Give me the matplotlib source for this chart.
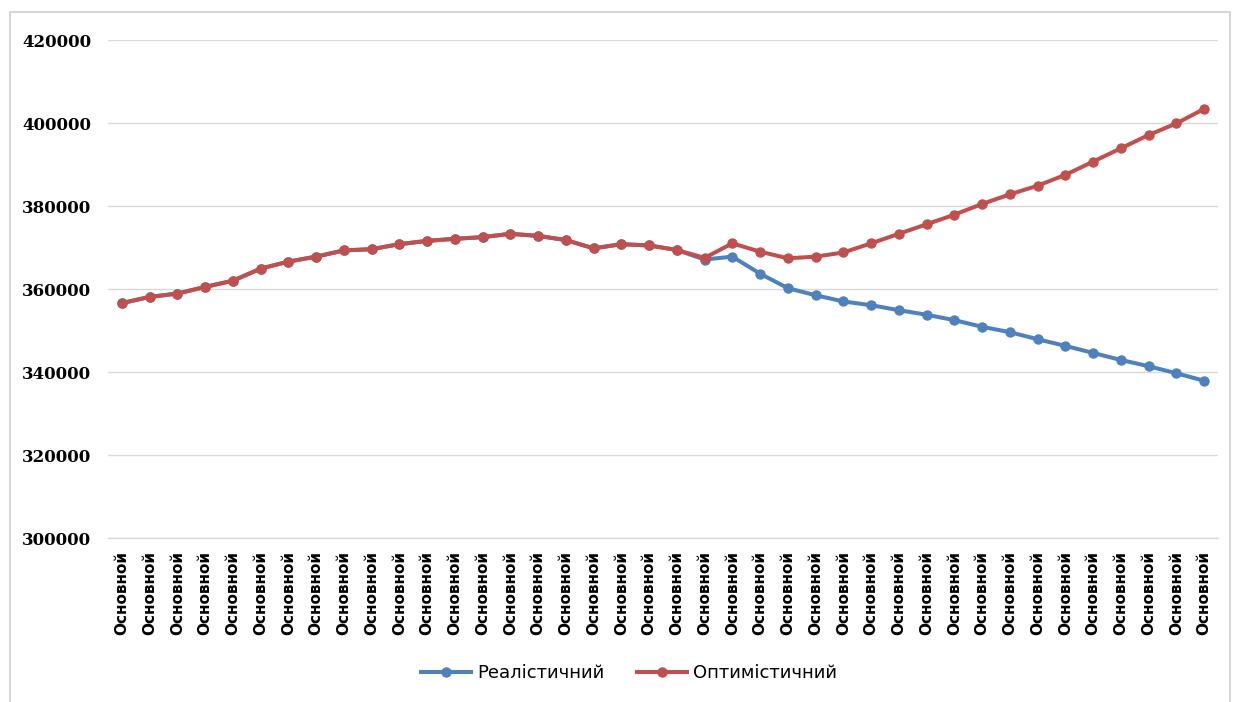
import matplotlib
matplotlib.use("Agg")
import matplotlib.pyplot as plt
from matplotlib.patches import Rectangle

# data
categories = ["Основной"] * 40

realistic = [356600, 358100, 358900, 360500, 362000, 364900, 366600, 367800, 369300, 369600,
             370800, 371600, 372100, 372500, 373300, 372800, 371800, 369800, 370800, 370500,
             369400, 367100, 367800, 363700, 360200, 358500, 357000, 356100, 354900, 353800,
             352500, 350900, 349600, 347900, 346300, 344600, 342900, 341400, 339700, 337900]

optimistic = [356600, 358100, 358900, 360500, 362000, 364900, 366600, 367800, 369300, 369600,
              370800, 371600, 372100, 372500, 373300, 372800, 371800, 369800, 370800, 370500,
              369400, 367500, 371000, 369000, 367400, 367800, 368800, 371000, 373300, 375600,
              377900, 380500, 382800, 384900, 387500, 390700, 393900, 397100, 399900, 403400]

yticks = [300000, 320000, 340000, 360000, 380000, 400000, 420000]

label_font = ["Liberation Sans Narrow", "DejaVu Sans"]

fig = plt.figure(figsize=(12.34, 7.02), dpi=100)
ax = fig.add_axes([0.0875, 0.2336, 0.8995, 0.7094])

# outer chart border
fig.patches.append(Rectangle((10 / 1234, -0.01), 1220 / 1234, 1 - 12 / 702 + 0.01,
                             transform=fig.transFigure, fill=False,
                             edgecolor="#D0D0D0", linewidth=1.2))

x = list(range(len(categories)))
ax.plot(x, realistic, color="#4F81BD", linewidth=2.9, marker="o", markersize=6.5,
        label="Реалістичний")
ax.plot(x, optimistic, color="#C0504D", linewidth=2.9, marker="o", markersize=6.5,
        label="Оптимістичний")

ax.set_xlim(-0.5, len(categories) - 0.5)
ax.set_ylim(300000, 420000)
ax.set_yticks(yticks)
ax.set_yticklabels([str(v) for v in yticks], family="DejaVu Serif",
                   fontweight="bold", fontsize=12)
ax.set_xticks(x)
ax.set_xticklabels(categories, rotation=90, family=label_font,
                   fontweight="bold", fontsize=11)
ax.tick_params(axis="both", length=0)
ax.tick_params(axis="y", pad=12)
ax.tick_params(axis="x", pad=9)

ax.grid(axis="y", color="#D9D9D9", linewidth=1)
# bottom gridline would be half clipped at the edge
ax.axhline(yticks[0], color="#D9D9D9", linewidth=1, clip_on=False, zorder=0.5)
ax.set_axisbelow(True)
for s in ax.spines.values():
    s.set_visible(False)

fig.legend(loc="center", bbox_to_anchor=(0.51, 0.041), ncol=2, frameon=False,
           prop={"family": label_font, "size": 13}, handlelength=2.75,
           columnspacing=1.8, handletextpad=0.35)

fig.savefig("out.png", dpi=100)
